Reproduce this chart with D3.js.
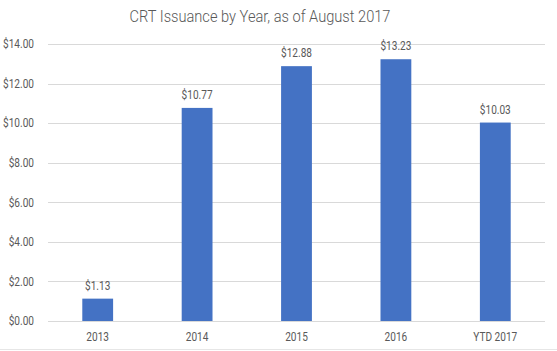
<!DOCTYPE html>
<html lang="en">
<head>
<meta charset="utf-8">
<script src="https://d3js.org/d3.v7.min.js"></script>
<style>
  body { margin: 0; background: #fff; }
  text { font-family: "Roboto", sans-serif; fill: #595959; }
</style>
</head>
<body>
<div id="chart"></div>
<script>
// data
const years = ["2013", "2014", "2015", "2016", "YTD 2017"];
const issuance = [1.13, 10.77, 12.88, 13.23, 10.03];
const yTicks = [0, 2, 4, 6, 8, 10, 12, 14];

const W = 557, H = 351;
const margin = {top: 44, right: 12, bottom: 30, left: 48};
const width = W - margin.left - margin.right;
const height = H - margin.top - margin.bottom;

// squeeze text so it looks like the narrow font of the original
function narrow(sel, k) {
  sel.each(function() {
    var w = this.getComputedTextLength();
    d3.select(this).attr("textLength", w * k).attr("lengthAdjust", "spacingAndGlyphs");
  });
}

var svg = d3.select("#chart")
  .append("svg")
  .attr("width", W)
  .attr("height", H);

svg.append("line")
  .attr("x1", 0).attr("x2", W)
  .attr("y1", H - 1.5).attr("y2", H - 1.5)
  .attr("stroke", "#e6e6e6");

svg.append("text")
  .attr("x", 260)
  .attr("y", 22)
  .attr("text-anchor", "middle")
  .style("font-size", "17px")
  .style("font-weight", "300")
  .text("CRT Issuance by Year, as of August 2017")
  .call(narrow, 0.86);

var g = svg.append("g")
  .attr("transform", "translate(" + margin.left + "," + margin.top + ")");

var x = d3.scaleBand()
  .domain(years)
  .range([0, width])
  .paddingInner(0.69)
  .paddingOuter(0.345);

var y = d3.scaleLinear()
  .domain([0, 14])
  .range([height, 0]);

// gridlines
g.selectAll(".grid")
  .data(yTicks)
  .enter()
  .append("line")
  .attr("class", "grid")
  .attr("x1", 0)
  .attr("x2", width)
  .attr("y1", function(d) { return Math.round(y(d)) + 0.5; })
  .attr("y2", function(d) { return Math.round(y(d)) + 0.5; })
  .attr("stroke", "#d9d9d9")
  .attr("stroke-width", 1);

// y axis labels
var yAxis = g.append("g")
  .call(d3.axisLeft(y).tickValues(yTicks).tickSize(0).tickPadding(14)
    .tickFormat(function(d) { return "$" + d3.format(".2f")(d); }));
yAxis.select(".domain").remove();
yAxis.selectAll("text").style("font-size", "12px").attr("fill", "#595959").call(narrow, 0.84);

// x axis labels
var xAxis = g.append("g")
  .attr("transform", "translate(0," + height + ")")
  .call(d3.axisBottom(x).tickSize(0).tickPadding(11));
xAxis.select(".domain").remove();
xAxis.selectAll("text").style("font-size", "12px").attr("fill", "#595959").call(narrow, 0.84);

var data = years.map(function(d, i) { return {year: d, value: issuance[i]}; });

g.selectAll(".bar")
  .data(data)
  .enter()
  .append("rect")
  .attr("class", "bar")
  .attr("x", function(d) { return x(d.year); })
  .attr("y", function(d) { return y(d.value); })
  .attr("width", x.bandwidth())
  .attr("height", function(d) { return height - y(d.value); })
  .attr("fill", "#4472c4");

g.selectAll(".val")
  .data(data)
  .enter()
  .append("text")
  .attr("class", "val")
  .attr("x", function(d) { return x(d.year) + x.bandwidth() / 2; })
  .attr("y", function(d) { return y(d.value) - 9; })
  .attr("text-anchor", "middle")
  .style("font-size", "12px")
  .text(function(d) { return "$" + d3.format(".2f")(d.value); })
  .call(narrow, 0.84);
</script>
</body>
</html>
